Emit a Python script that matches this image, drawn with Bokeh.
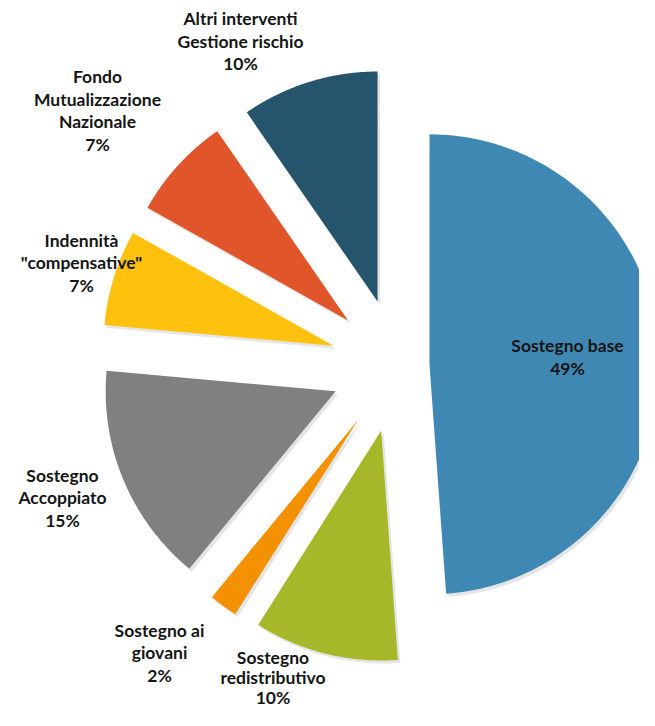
import numpy as np
from bokeh.plotting import figure
from bokeh.models import Range1d, ColumnDataSource
from bokeh.embed import file_html
from bokeh.resources import INLINE
from bokeh.core.properties import value

# ---- data ----
categories = [
    "Sostegno base",
    "Sostegno\nredistributivo",
    "Sostegno ai\ngiovani",
    "Sostegno\nAccoppiato",
    "Indennità\n\"compensative\"",
    "Fondo\nMutualizzazione\nNazionale",
    "Altri interventi\nGestione rischio",
]
shares = [48.7, 10.1, 2.0, 15.4, 6.7, 7.2, 9.6]
colors = ["#4088B4", "#A6B829", "#F39100", "#808080", "#FEC10D", "#E0552A", "#27546D"]

# ---- layout / style ----
W, H = 639, 710
CX, CY, R = 397.0, 365.0, 230.0
explode = [32, 67, 67, 67, 67, 67, 67]
label_anchor = [(567, 345), (272.5, 657), (159, 629.7), (62, 474.7),
                (81, 239.7), (97, 76.3), (240, 18)]
label_line = [22.5, 20.0, 22.5, 22.5, 22.5, 22.5, 22.5]
FONT = "Lato"
FSIZE = "17.5px"

p = figure(width=W, height=H, output_backend="svg", toolbar_location=None,
           x_range=Range1d(0, W), y_range=Range1d(H, 0),
           min_border=0, min_border_left=0, min_border_right=0,
           min_border_top=0, min_border_bottom=0)
p.axis.visible = False
p.grid.visible = False
p.outline_line_color = None
p.background_fill_color = "white"
p.border_fill_color = "white"

vals = np.array(shares, dtype=float)
fr = vals / vals.sum()
ends = np.cumsum(fr) * 2 * np.pi
starts = np.concatenate([[0.0], ends[:-1]])

xs, ys, sx, sy = [], [], [], []
for a0, a1, e in zip(starts, ends, explode):
    mid = 0.5 * (a0 + a1)
    ax = CX + e * np.sin(mid)
    ay = CY - e * np.cos(mid)
    th = np.linspace(a0, a1, 120)
    px = np.concatenate([[ax], ax + R * np.sin(th)])
    py = np.concatenate([[ay], ay - R * np.cos(th)])
    xs.append(list(px)); ys.append(list(py))
    sx.append(list(px + 2.5)); sy.append(list(py + 3))

p.patches(sx, sy, fill_color="#000000", fill_alpha=0.10, line_color=None)
p.patches(xs, ys, fill_color=colors, line_color=None)

tx, ty, tt = [], [], []
for cat, v, (lx, ly), lh in zip(categories, shares, label_anchor, label_line):
    lines = cat.split("\n") + [f"{round(v):d}%"]
    for i, ln in enumerate(lines):
        tx.append(lx); ty.append(ly + i * lh); tt.append(ln)

src = ColumnDataSource(dict(x=tx, y=ty, t=tt))
p.text("x", "y", text="t", source=src, text_align="center",
       text_baseline="alphabetic", text_font=value(FONT),
       text_font_style="bold", text_font_size=FSIZE, text_color="#151515")

open("out.html", "w").write(file_html(p, INLINE))
